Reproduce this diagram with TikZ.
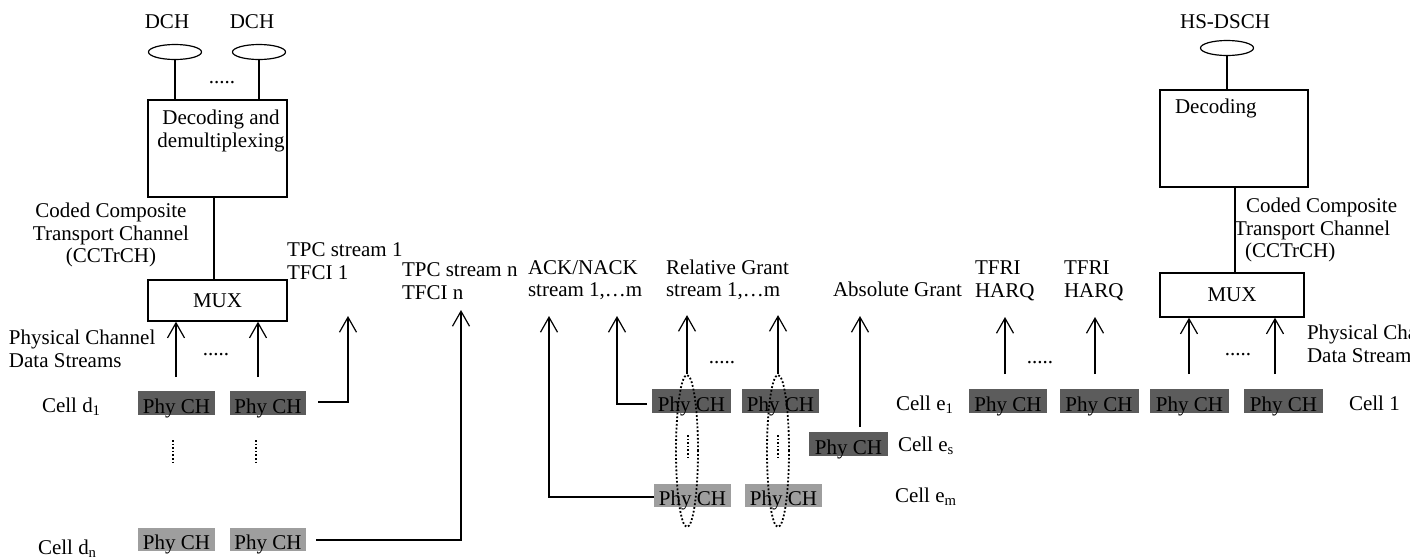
\documentclass[tikz,border=0pt]{standalone}
\usepackage{fontspec}
\setmainfont{Liberation Serif}
\usetikzlibrary{arrows.meta,shapes.geometric}
\definecolor{phydark}{HTML}{5C5C5C}
\definecolor{phylight}{HTML}{9E9E9E}
\begin{document}
\begin{tikzpicture}[x=1pt,y=-1pt,
  font=\fontsize{21}{22.5}\selectfont,
  txt/.style={inner sep=0pt,outer sep=0pt,align=left},
  phyd/.style={fill=phydark,minimum height=24pt,inner sep=0pt,outer sep=0pt,text height=20pt,text depth=0pt},
  phyl/.style={fill=phylight,minimum height=23pt,inner sep=0pt,outer sep=0pt,text height=19.5pt,text depth=0pt},
  blk/.style={draw,line width=1.4pt,inner sep=0pt},
  ln/.style={line width=1.2pt},
  arr/.style={line width=1.2pt,-{Straight Barb[length=15pt,width=17pt,line width=1.2pt]}},
  chan/.style={draw,ellipse,line width=1.2pt,minimum width=53pt,minimum height=15pt,inner sep=0pt},
  dotv/.style={dotted,line width=1.6pt},
  grp/.style={draw,ellipse,dotted,line width=1.8pt,minimum width=22pt,minimum height=152pt,inner sep=0pt}]
\useasboundingbox (0,0) rectangle (1410,558);

% ---------- left: DCH ----------
\node[txt] (dchA) at (167,22) {DCH};
\node[txt] (dchB) at (252,22) {DCH};
\node[chan] (elA) at (175,52) {};
\node[chan] (elB) at (259,52) {};
\node[blk,minimum width=139pt,minimum height=97pt] (dec) at (217.5,148.5) {};
\node[txt,align=center] (decT) at (221,131) {Decoding and\\demultiplexing};
\node[txt] (dotsA) at (222,83) {.....};
\draw[ln] (elA.south) -- (elA.south |- dec.north);
\draw[ln] (elB.south) -- (elB.south |- dec.north);
\node[blk,minimum width=139pt,minimum height=41pt] (muxL) at (217.5,300.5) {MUX};
\coordinate (decLb) at (214,197);
\draw[ln] (decLb) -- (decLb |- muxL.north);
\node[txt,align=center] (cctL) at (111,235) {Coded Composite\\Transport Channel\\(CCTrCH)};
\node[txt,anchor=west] (pcdL) at (9,349) {Physical Channel\\Data Streams};
\node[txt] (dotsB) at (216,355) {.....};

\node[phyd,minimum width=77pt] (d1a) at (176.5,403) {Phy CH};
\node[phyd,minimum width=76pt] (d1b) at (268,403) {Phy CH};
\node[txt,anchor=west] (celld1) at (42,407) {Cell d\textsubscript{1}};
\coordinate (aL1) at (176,377);
\coordinate (aL2) at (258,377);
\draw[arr] (aL1) -- (aL1 |- muxL.south);
\draw[arr] (aL2) -- (aL2 |- muxL.south);

\node[txt,anchor=west] (tpc1) at (287,261) {TPC stream 1\\TFCI 1};
\coordinate (t1s) at (318,402);
\coordinate (t1c) at (348,402);
\coordinate (t1e) at (348,316);
\draw[arr] (t1s) -- (t1c) -- (t1e);

\draw[dotv] (173,440) -- (173,463);
\draw[dotv] (256,440) -- (256,463);

\node[phyl,minimum width=77pt] (dna) at (176.5,539.5) {Phy CH};
\node[phyl,minimum width=76pt] (dnb) at (268,539.5) {Phy CH};
\node[txt,anchor=west] (celldn) at (38,549) {Cell d\textsubscript{n}};
\node[txt,anchor=west] (tpcn) at (402,281) {TPC stream n\\TFCI n};
\coordinate (tns) at (316,540);
\coordinate (tnc) at (461,540);
\coordinate (tne) at (461,310);
\draw[arr] (tns) -- (tnc) -- (tne);

% ---------- middle ----------
\node[txt,anchor=west] (ack) at (528,280) {ACK/NACK\\stream 1,…m};
\node[txt,anchor=west] (rg) at (666,280) {Relative Grant\\stream 1,…m};
\node[txt,anchor=west] (ag) at (833,289) {Absolute Grant};

\node[phyd,minimum width=79pt] (e1a) at (691.5,401) {Phy CH};
\node[phyd,minimum width=77pt] (e1b) at (780.5,401) {Phy CH};
\node[phyl,minimum width=77pt] (ema) at (692.5,495.5) {Phy CH};
\node[phyl,minimum width=77pt] (emb) at (783.5,495.5) {Phy CH};
\node[phyd,minimum width=79pt] (es) at (848.5,444) {Phy CH};

\coordinate (ak1c) at (549,497);
\coordinate (ak1e) at (549,316);
\draw[arr] (ema.west |- ak1c) -- (ak1c) -- (ak1e);
\coordinate (ak2s) at (647,404);
\coordinate (ak2c) at (617,404);
\coordinate (ak2e) at (617,316);
\draw[arr] (ak2s) -- (ak2c) -- (ak2e);

\node[grp] (g1) at (687,451) {};
\node[grp] (g2) at (778,451) {};
\draw[arr] (g1.north) -- ++(0,-59);
\draw[arr] (g2.north) -- ++(0,-59);
\draw[dotv] (688,435) -- (688,460);
\draw[dotv] (778,435) -- (778,460);
\node[txt] (dotsC) at (722,363) {.....};

\coordinate (agS) at (860,427);
\draw[arr] (agS) -- (860,316);

\node[txt,anchor=west] (ce1) at (896,405) {Cell e\textsubscript{1}};
\node[txt,anchor=west] (ces) at (898,446) {Cell e\textsubscript{s}};
\node[txt,anchor=west] (cem) at (895,497) {Cell e\textsubscript{m}};

% ---------- right ----------
\node[phyd,minimum width=78pt] (r1) at (1008,401) {Phy CH};
\node[phyd,minimum width=79pt] (r2) at (1099,401) {Phy CH};
\node[phyd,minimum width=79pt] (r3) at (1189.5,401) {Phy CH};
\node[phyd,minimum width=79pt] (r4) at (1283.5,401) {Phy CH};
\node[txt,anchor=west] (cell1) at (1349,403) {Cell 1};

\node[txt,anchor=west] (tf1) at (975,281) {TFRI\\HARQ};
\node[txt,anchor=west] (tf2) at (1064,281) {TFRI\\HARQ};
\draw[arr] (1005,374) -- (1005,317);
\draw[arr] (1095,374) -- (1095,317);
\node[txt] (dotsD) at (1040,363) {.....};

\node[blk,minimum width=144pt,minimum height=44pt] (muxR) at (1232,295) {MUX};
\coordinate (aR1) at (1189,374);
\coordinate (aR2) at (1275,374);
\draw[arr] (aR1) -- (aR1 |- muxR.south);
\draw[arr] (aR2) -- (aR2 |- muxR.south);
\node[txt] (dotsE) at (1238,355) {.....};
\node[txt,anchor=west] (pcdR) at (1307,344) {Physical Channel\\Data Streams};

\node[txt] (hs) at (1225,22) {HS-DSCH};
\node[chan] (elR) at (1227,48) {};
\node[blk,minimum width=148pt,minimum height=97pt] (decR) at (1234,138.5) {};
\node[txt,anchor=west] (decRT) at (1175,108) {Decoding};
\draw[ln] (elR.south) -- (elR.south |- decR.north);
\coordinate (decRb) at (1235,187);
\draw[ln] (decRb) -- (decRb |- muxR.north);
\node[txt,anchor=west] (ccR1) at (1246,207) {Coded Composite};
\node[txt,anchor=west] (ccR2) at (1234,230) {Transport Channel};
\node[txt,anchor=west] (ccR3) at (1245,252) {(CCTrCH)};
\end{tikzpicture}
\end{document}
